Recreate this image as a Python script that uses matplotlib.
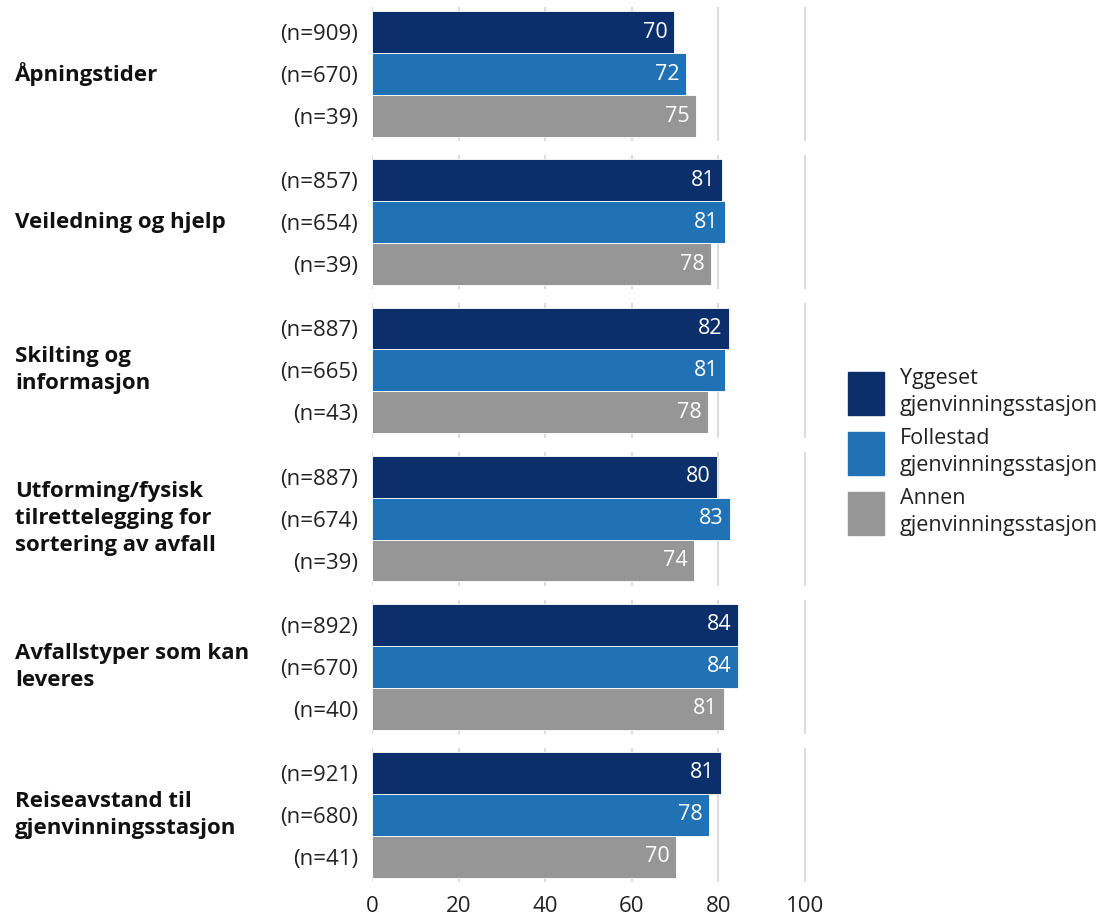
import matplotlib
matplotlib.use("Agg")
import matplotlib.pyplot as plt
from matplotlib.patches import Patch

plt.rcParams['font.family'] = ['Open Sans', 'DejaVu Sans']

# data
groups = ["Åpningstider", "Veiledning og hjelp", "Skilting og\ninformasjon",
          "Utforming/fysisk\ntilrettelegging for\nsortering av avfall",
          "Avfallstyper som kan\nleveres", "Reiseavstand til\ngjenvinningsstasjon"]
series = ["Yggeset\ngjenvinningsstasjon", "Follestad\ngjenvinningsstasjon", "Annen\ngjenvinningsstasjon"]
colors = ["#0b2f6a", "#2171b5", "#969696"]

yggeset = [69.8, 80.9, 82.5, 79.7, 84.6, 80.6]
follestad = [72.6, 81.6, 81.6, 82.7, 84.6, 77.9]
annen = [74.9, 78.3, 77.6, 74.4, 81.3, 70.3]
yggeset_lbl = [70, 81, 82, 80, 84, 81]
follestad_lbl = [72, 81, 81, 83, 84, 78]
annen_lbl = [75, 78, 78, 74, 81, 70]
yggeset_n = [909, 857, 887, 887, 892, 921]
follestad_n = [670, 654, 665, 674, 670, 680]
annen_n = [39, 39, 43, 39, 40, 41]
xticks = [0, 20, 40, 60, 80, 100]

W, H = 1101, 917
fig = plt.figure(figsize=(W / 100, H / 100), dpi=100)

left, right = 372, 806
top, bottom = 7, 882
gap = 14
ph = (bottom - top - 5 * gap) / 6

for i in range(6):
    y0 = top + i * (ph + gap)
    ax = fig.add_axes([left / W, 1 - (y0 + ph) / H, (right - left) / W, ph / H])
    vals = [yggeset[i], follestad[i], annen[i]]
    lbls = [yggeset_lbl[i], follestad_lbl[i], annen_lbl[i]]
    ns = [yggeset_n[i], follestad_n[i], annen_n[i]]
    ax.barh(range(3), vals, height=1.0, color=colors, edgecolor="white", linewidth=0.6, zorder=2)
    for j in range(3):
        ax.text(vals[j] - 1.5, j, str(lbls[j]), ha="right", va="center", color="white", fontsize=15.5, zorder=3)
    ax.set_ylim(2.6, -0.6)
    ax.set_xlim(0, 100.3)
    ax.set_xticks(xticks)
    ax.grid(axis="x", color="#dcdcdc", linewidth=1.5, zorder=0)
    ax.set_yticks(range(3))
    ax.set_yticklabels([f"(n={n})" for n in ns], fontsize=16, color="#222222")
    ax.tick_params(axis="y", length=0, pad=10)
    ax.tick_params(axis="x", length=0, labelsize=16, labelcolor="#222222", pad=10)
    if i < 5:
        ax.set_xticklabels([])
    for s in ax.spines.values():
        s.set_visible(False)
    fig.text(15 / W, 1 - (y0 + ph / 2) / H, groups[i], ha="left", va="center",
             fontsize=16, fontweight="bold", color="#111111", linespacing=1.37)

handles = [Patch(facecolor=c, edgecolor=c) for c in colors]
leg = fig.legend(handles, series, loc="center left", bbox_to_anchor=(828.6 / W, 1 - 452 / H),
                 frameon=False, fontsize=15.5, handlelength=1.67, handleheight=2.7,
                 handletextpad=0.74, labelspacing=0.58, labelcolor="#222222")
for t in leg.get_texts():
    t.set_linespacing(1.35)

fig.savefig("out.png", dpi=100)
